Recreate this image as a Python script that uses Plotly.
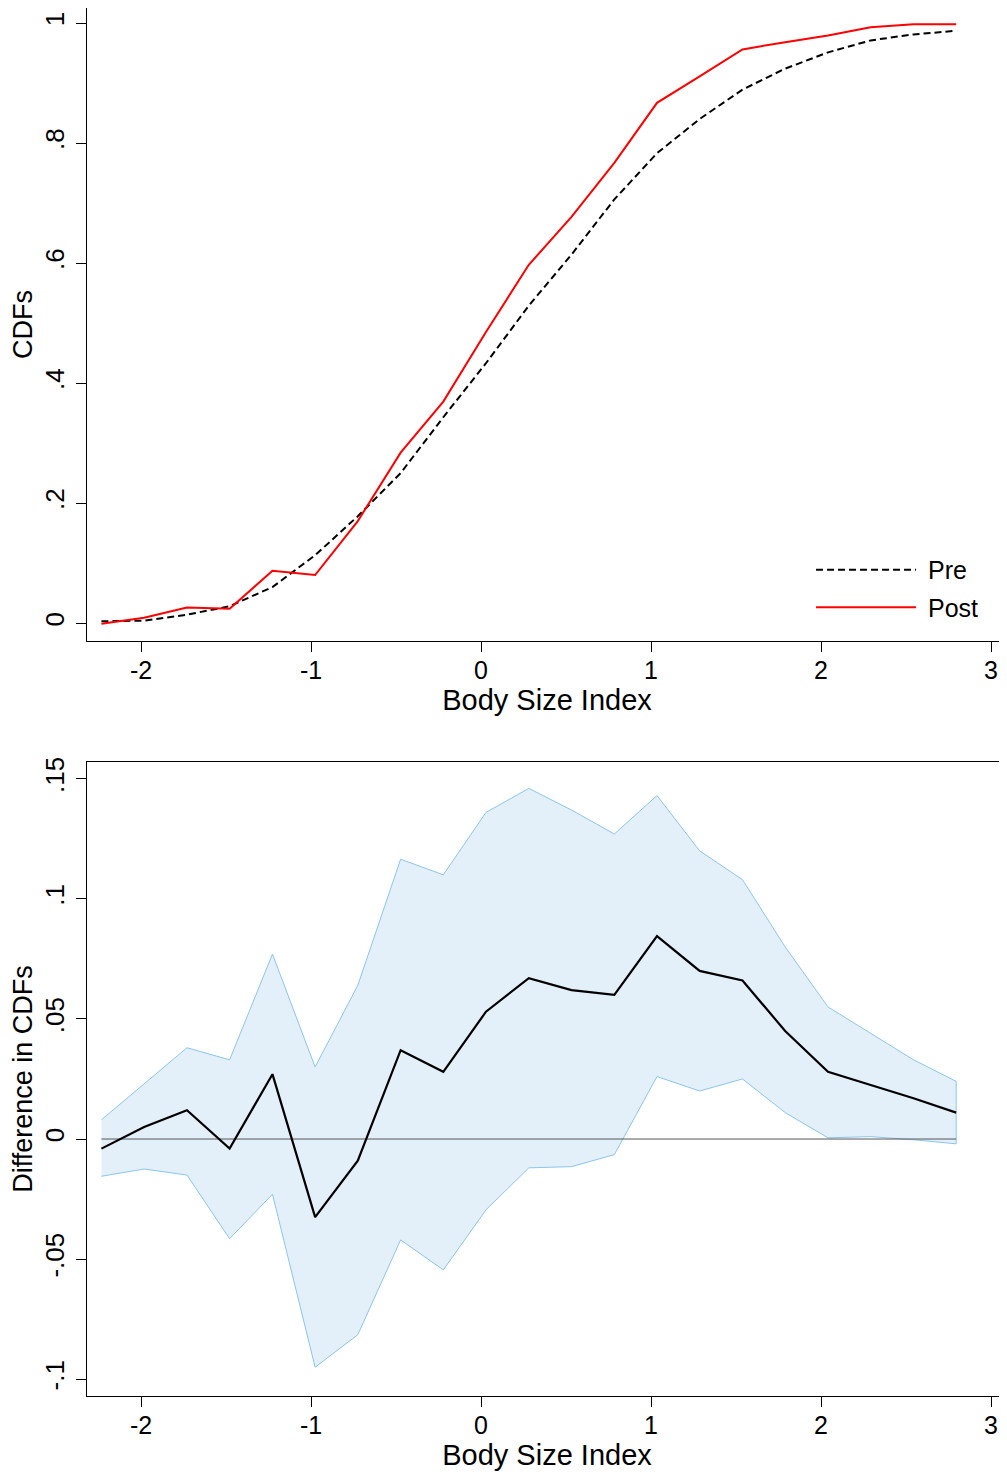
import plotly.graph_objects as go

# ---- data ----
x_vals = [-2.233, -1.982, -1.730, -1.479, -1.227, -0.976, -0.725, -0.473, -0.222, 0.029,
          0.281, 0.532, 0.784, 1.035, 1.286, 1.538, 1.789, 2.041, 2.292, 2.544, 2.795]

pre_cdf = [0.003, 0.004, 0.014, 0.028, 0.060, 0.113, 0.178, 0.250, 0.343, 0.433,
           0.529, 0.614, 0.706, 0.783, 0.840, 0.889, 0.924, 0.951, 0.971, 0.981, 0.987]
post_cdf = [-0.001, 0.009, 0.026, 0.024, 0.087, 0.080, 0.170, 0.284, 0.369, 0.485,
            0.597, 0.677, 0.767, 0.867, 0.911, 0.956, 0.968, 0.979, 0.993, 0.998, 0.998]

diff = [-0.004, 0.005, 0.012, -0.004, 0.027, -0.0325, -0.009, 0.037, 0.028, 0.053,
        0.067, 0.062, 0.060, 0.0845, 0.070, 0.066, 0.045, 0.028, 0.0225, 0.017, 0.011]
ci_upper = [0.008, 0.023, 0.038, 0.033, 0.077, 0.030, 0.064, 0.1165, 0.110, 0.136,
            0.146, 0.137, 0.127, 0.143, 0.120, 0.108, 0.080, 0.055, 0.044, 0.033, 0.024]
ci_lower = [-0.0155, -0.0125, -0.015, -0.0415, -0.023, -0.095, -0.0815, -0.042, -0.0545, -0.0295,
            -0.012, -0.0115, -0.0065, 0.026, 0.020, 0.025, 0.011, 0.0005, 0.001, -0.0003, -0.002]

x_ticks = [-2, -1, 0, 1, 2, 3]
x_ticktext = ["-2", "-1", "0", "1", "2", "3"]
cdf_ticks = [0, 0.2, 0.4, 0.6, 0.8, 1.0]
cdf_ticktext = ["0", ".2", ".4", ".6", ".8", "1"]
diff_ticks = [-0.1, -0.05, 0, 0.05, 0.1, 0.15]
diff_ticktext = ["-.1", "-.05", "0", ".05", ".1", ".15"]

FONT = "Liberation Sans, Arial, Helvetica, sans-serif"

fig = go.Figure()

# ---- top panel: CDFs ----
fig.add_trace(go.Scatter(x=x_vals, y=pre_cdf, mode="lines", name="\u00a0Pre", legendgroup="pre",
                         line=dict(color="black", width=2, dash="7px,4px"),
                         xaxis="x", yaxis="y"))
fig.add_trace(go.Scatter(x=x_vals, y=post_cdf, mode="lines", name="\u00a0Post", legendgroup="post",
                         line=dict(color="#ff0000", width=2),
                         xaxis="x", yaxis="y"))

# ---- bottom panel: difference with CI ----
fig.add_trace(go.Scatter(x=x_vals + x_vals[::-1], y=ci_upper + ci_lower[::-1],
                         mode="lines", fill="toself", fillcolor="rgb(227,240,250)",
                         line=dict(color="rgb(140,197,236)", width=1),
                         showlegend=False, hoverinfo="skip", xaxis="x2", yaxis="y2"))
fig.add_trace(go.Scatter(x=[x_vals[0], x_vals[-1]], y=[0, 0], mode="lines",
                         line=dict(color="#555555", width=1),
                         showlegend=False, hoverinfo="skip", xaxis="x2", yaxis="y2"))
fig.add_trace(go.Scatter(x=x_vals, y=diff, mode="lines",
                         line=dict(color="black", width=2.2),
                         showlegend=False, xaxis="x2", yaxis="y2"))

xr = [-2.318, 3.094]
common_x = dict(range=xr, showline=True, linecolor="black", linewidth=1.3, mirror=True,
                ticks="outside", ticklen=10, tickwidth=1.3, tickcolor="black",
                tickvals=x_ticks, ticktext=x_ticktext, tickfont=dict(size=25, color="black"),
                showgrid=False, zeroline=False, automargin=False, ticklabelstandoff=-3,
                title=dict(text="Body Size Index", font=dict(size=29, color="black"), standoff=1))
common_y = dict(showline=True, linecolor="black", linewidth=1.3, mirror=False,
                ticks="outside", ticklen=10, tickwidth=1.3, tickcolor="black",
                tickangle=-90, tickfont=dict(size=26, color="black"),
                showgrid=False, zeroline=False, ticklabelstandoff=1, automargin=False)

fig.update_layout(
    width=999, height=1466,
    margin=dict(l=79, r=0, t=0, b=78, autoexpand=False),
    paper_bgcolor="white", plot_bgcolor="white",
    font=dict(family=FONT, color="black"),
    xaxis=dict(domain=[0, 1], anchor="y", **common_x),
    yaxis=dict(domain=[0.5439, 1.0], anchor="x", range=[-0.03, 1.025],
               tickvals=cdf_ticks, ticktext=cdf_ticktext,
               title=dict(text="CDFs", font=dict(size=27, color="black"), standoff=0),
               **common_y),
    xaxis2=dict(domain=[0, 1], anchor="y2", **common_x),
    yaxis2=dict(domain=[0.0, 0.4568], anchor="x2", range=[-0.107, 0.157],
                tickvals=diff_ticks, ticktext=diff_ticktext,
                title=dict(text="Difference in CDFs", font=dict(size=27, color="black"), standoff=0),
                **common_y),
    legend=dict(x=0.787, y=0.6117, xanchor="left", yanchor="top",
                bgcolor="rgba(0,0,0,0)", font=dict(size=25, color="black"),
                itemwidth=100, tracegroupgap=2),
    showlegend=True,
)

fig.write_html("out.html")
